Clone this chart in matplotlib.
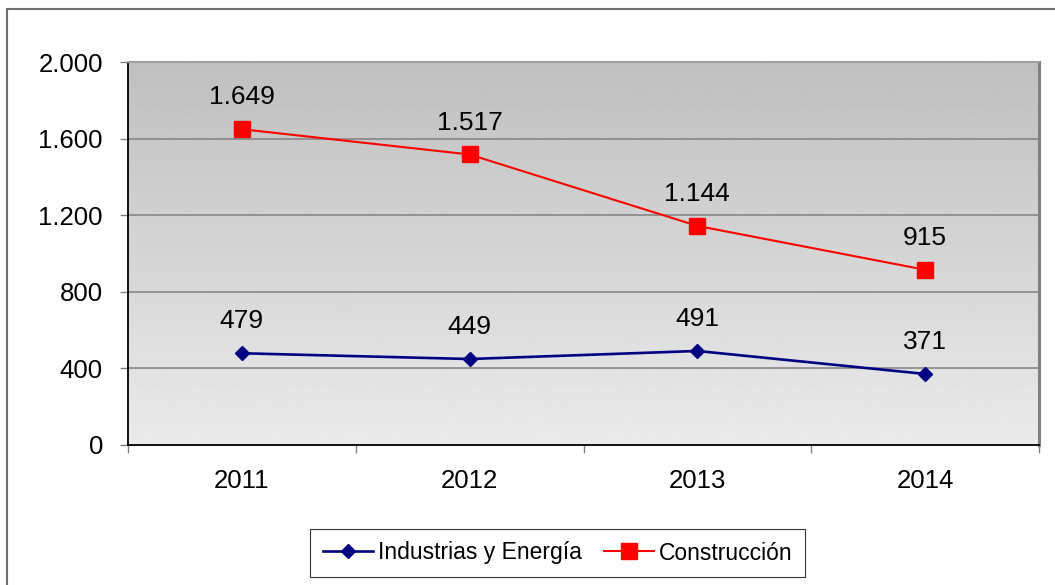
import numpy as np
import matplotlib.pyplot as plt
from matplotlib.patches import Rectangle
from matplotlib.ticker import FuncFormatter

plt.rcParams['font.family'] = ['Liberation Sans', 'DejaVu Sans']

# datos
years = ['2011', '2012', '2013', '2014']
industria = [479, 449, 491, 371]
construccion = [1649, 1517, 1144, 915]


def miles(v):
    return f"{int(v):,}".replace(',', '.')


fig = plt.figure(figsize=(10.55, 5.85), dpi=100)
ax = fig.add_axes([128 / 1055, 1 - 445 / 585, (1039 - 128) / 1055, (445 - 62) / 585])

x = np.arange(len(years))
ax.set_xlim(-0.5, len(years) - 0.5)
ax.set_ylim(0, 2000)

# fondo degradado gris: claro abajo, oscuro arriba
grad = np.linspace(0.92, 0.75, 256).reshape(-1, 1)
ax.imshow(grad, cmap='gray', vmin=0, vmax=1, aspect='auto',
          extent=[-0.5, len(years) - 0.5, 0, 2000], origin='lower', zorder=0)

for yv in [400, 800, 1200, 1600]:
    ax.axhline(yv, color='#808080', lw=1.1, zorder=1)

ax.plot(x, industria, color='#000080', lw=1.9, marker='D', ms=7.5,
        label='Industrias y Energía', zorder=3)
ax.plot(x, construccion, color='#ff0000', lw=1.5, marker='s', ms=11,
        label='Construcción', zorder=3)

for xi, v in zip(x, industria):
    ax.annotate(miles(v), (xi, v), xytext=(0, 23), textcoords='offset points',
                ha='center', va='center', fontsize=19)
for xi, v in zip(x, construccion):
    ax.annotate(miles(v), (xi, v), xytext=(0, 23), textcoords='offset points',
                ha='center', va='center', fontsize=19)

ax.set_yticks([0, 400, 800, 1200, 1600, 2000])
ax.yaxis.set_major_formatter(FuncFormatter(lambda v, p: miles(v)))
ax.tick_params(axis='y', length=6, width=1, color='#808080', pad=12, labelsize=18.5)

ax.set_xticks(np.arange(-0.5, len(years), 1.0))
ax.set_xticklabels([])
ax.set_xticks(x, minor=True)
ax.set_xticklabels(years, minor=True)
ax.tick_params(axis='x', which='major', length=6, width=1, color='#808080')
ax.tick_params(axis='x', which='minor', length=0, pad=17, labelsize=18.5)

ax.spines['left'].set_color('black')
ax.spines['bottom'].set_color('black')
ax.spines['left'].set_linewidth(1.3)
ax.spines['bottom'].set_linewidth(1.3)
ax.spines['right'].set_color('#808080')
ax.spines['right'].set_linewidth(2.2)
ax.spines['top'].set_color('#a0a0a0')
ax.spines['top'].set_linewidth(1.5)

leg = fig.legend(loc='center', bbox_to_anchor=(557.5 / 1055, 1 - 553 / 585),
                 ncol=2, fontsize=16.5, frameon=True, fancybox=False,
                 handlelength=2.2, handletextpad=0.2, columnspacing=0.95,
                 borderpad=0.55, edgecolor='black')
leg.get_frame().set_linewidth(0.8)

# marco exterior del gráfico
fig.patches.append(Rectangle((7 / 1055, -0.1), 1.2, 1.1 - 9 / 585,
                             transform=fig.transFigure, fill=False,
                             edgecolor='#707070', lw=1.5))

fig.savefig('out.png', dpi=100)
